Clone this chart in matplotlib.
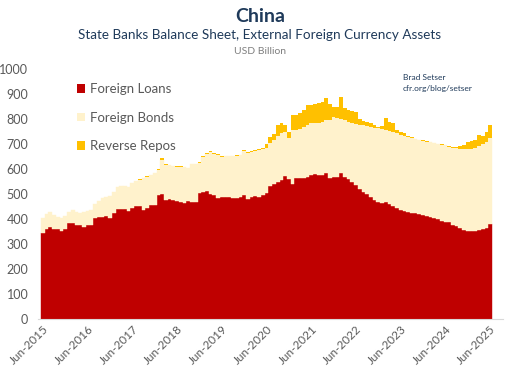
import matplotlib
matplotlib.use("Agg")
import matplotlib.pyplot as plt
from matplotlib.patches import Patch
import numpy as np

# ---- data (USD billion), monthly Jun-2015 .. Jun-2025 ----
loans = [345, 361, 367, 359, 359, 353, 361, 383, 383, 377, 377, 367,
         375, 375, 404, 407, 407, 412, 404, 423, 441, 441, 439, 431,
         444, 452, 452, 436, 444, 455, 455, 495, 500, 476, 479, 476,
         471, 468, 463, 473, 468, 468, 503, 508, 511, 500, 497, 484,
         487, 487, 487, 484, 484, 487, 497, 481, 487, 492, 490, 496,
         505, 532, 540, 548, 556, 572, 560, 540, 564, 564, 566, 568,
         578, 580, 578, 576, 583, 563, 570, 568, 585, 567, 560, 549,
         535, 519, 510, 500, 490, 476, 467, 463, 467, 460, 452, 445,
         438, 433, 429, 423, 425, 419, 416, 412, 409, 405, 400, 392,
         389, 387, 375, 372, 366, 357, 353, 352, 354, 356, 360, 365,
         380]

loans_plus_bonds = [405, 422, 427, 418, 410, 405, 412, 430, 436, 430, 426, 428,
                    433, 438, 462, 474, 483, 490, 492, 510, 528, 532, 532, 530,
                    545, 552, 558, 563, 570, 577, 583, 596, 638, 618, 615, 612,
                    609, 609, 608, 604, 620, 620, 625, 648, 660, 668, 660, 658,
                    650, 652, 652, 652, 654, 655, 672, 665, 668, 672, 676, 679,
                    685, 705, 718, 732, 745, 750, 725, 755, 758, 762, 770, 778,
                    783, 785, 786, 788, 795, 798, 808, 806, 800, 795, 790, 786,
                    782, 778, 776, 774, 770, 766, 763, 760, 758, 752, 747, 743,
                    738, 733, 729, 724, 719, 716, 713, 710, 707, 704, 700, 697,
                    695, 690, 686, 683, 681, 680, 680, 682, 686, 692, 700, 708,
                    725]

total = [405, 422, 427, 418, 410, 405, 412, 430, 436, 430, 426, 428,
         433, 438, 462, 474, 483, 490, 492, 510, 528, 532, 532, 530,
         546, 553, 559, 564, 571, 578, 585, 600, 643, 620, 617, 614,
         611, 611, 610, 606, 622, 622, 627, 652, 664, 672, 663, 660,
         652, 654, 654, 654, 656, 657, 676, 668, 671, 675, 679, 683,
         700, 730, 742, 775, 785, 778, 750, 815, 818, 825, 838, 855,
         858, 862, 866, 870, 886, 860, 848, 850, 889, 845, 836, 834,
         830, 800, 792, 789, 783, 778, 770, 772, 803, 790, 783, 758,
         750, 745, 732, 728, 721, 718, 715, 712, 709, 706, 702, 699,
         697, 693, 690, 690, 694, 697, 708, 712, 718, 738, 732, 750,
         776]

bonds = [lb - l for lb, l in zip(loans_plus_bonds, loans)]
repos = [max(t - lb, 0) for t, lb in zip(total, loans_plus_bonds)]

tick_labels = ["Jun-2015", "Jun-2016", "Jun-2017", "Jun-2018", "Jun-2019",
               "Jun-2020", "Jun-2021", "Jun-2022", "Jun-2023", "Jun-2024",
               "Jun-2025"]
yticks = [0, 100, 200, 300, 400, 500, 600, 700, 800, 900, 1000]

series_names = ["Foreign Loans", "Foreign Bonds", "Reverse Repos"]
colors = ["#BF0000", "#FFF2CC", "#FFC000"]

plt.rcParams['font.family'] = ['Lato', 'DejaVu Sans']

W, H = 520, 378
fig = plt.figure(figsize=(W / 100, H / 100), dpi=100)
left_px, right_px, top_px, bot_px = 38, 503, 69, 319
ax = fig.add_axes([left_px / W, 1 - bot_px / H,
                   (right_px - left_px) / W, (bot_px - top_px) / H])

x = np.arange(len(loans))
b1 = np.array(loans)
b2 = np.array(bonds)
b3 = np.array(repos)
ax.bar(x, b1, width=1.0, color=colors[0], edgecolor=colors[0], linewidth=0.3)
ax.bar(x, b2, width=1.0, bottom=b1, color=colors[1], edgecolor=colors[1], linewidth=0.3)
ax.bar(x, b3, width=1.0, bottom=b1 + b2, color=colors[2], edgecolor="none", linewidth=0)

# x scale: bars from -0.5..120.5 spanning 41..492 px
ppu = (492 - 41) / 121.0
ax.set_xlim(-0.5 - (41 - left_px) / ppu, 120.5 + (right_px - 492) / ppu)
ax.set_ylim(0, 1000)

ax.set_yticks(yticks)
ax.set_yticklabels([str(v) for v in yticks], fontsize=9, color="#595959")
ax.set_xticks(np.arange(0, 121, 12))
ax.set_xticklabels(tick_labels, rotation=45, ha="right", va="top",
                   rotation_mode="anchor", fontsize=8.5, color="#595959")
ax.tick_params(axis="both", length=0, pad=3)
ax.tick_params(axis="y", pad=7)
for s in ["top", "right", "left"]:
    ax.spines[s].set_visible(False)
ax.spines["bottom"].set_color("#D9D9D9")
ax.spines["bottom"].set_linewidth(0.8)

handles = [Patch(facecolor=c, edgecolor="none") for c in colors]
leg = ax.legend(handles, series_names, loc="upper left",
                bbox_to_anchor=(72 / W, 1 - 78 / H), bbox_transform=fig.transFigure,
                frameon=False, fontsize=9.5, handlelength=0.6, handleheight=0.6,
                handletextpad=0.4, labelspacing=1.25, borderaxespad=0)
for t in leg.get_texts():
    t.set_color("#595959")

fig.text(0.5, 1 - 17 / H, "China", ha="center", va="center",
         fontsize=14, fontweight="bold", color="#1F3A5A")
fig.text(0.5, 1 - 35 / H, "State Banks Balance Sheet, External Foreign Currency Assets",
         ha="center", va="center", fontsize=9.7, color="#1F3A5A")
fig.text(0.5, 1 - 51 / H, "USD Billion", ha="center", va="center",
         fontsize=7.5, color="#7F7F7F")
fig.text(403 / W, 1 - 78 / H, "Brad Setser", ha="left", va="center",
         fontsize=6, color="#1F3A5A")
fig.text(403 / W, 1 - 89 / H, "cfr.org/blog/setser", ha="left", va="center",
         fontsize=6, color="#1F3A5A")

fig.savefig("out.png", dpi=100)
